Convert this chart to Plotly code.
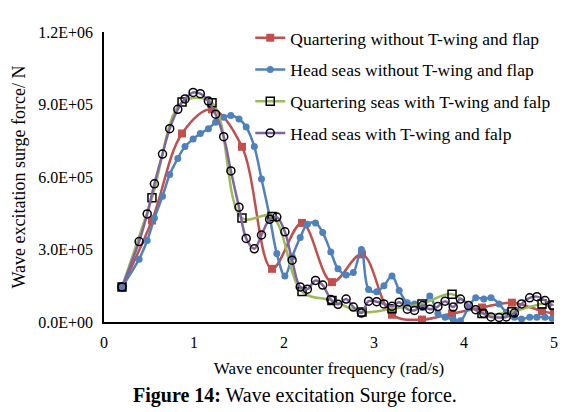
import plotly.graph_objects as go

# Sparse grid (squares) for quartering cases
freq_sparse = [0.2, 0.533, 0.867, 1.2, 1.533, 1.867, 2.2, 2.533, 2.867, 3.2, 3.533, 3.867, 4.2, 4.533, 4.867, 5.0]
quart_no_wing = [0.145, 0.42, 0.78, 0.88, 0.725, 0.22, 0.41, 0.165, 0.28, 0.03, 0.01, 0.035, 0.06, 0.08, 0.045, 0.035]
quart_wing = [0.145, 0.514, 0.91, 0.907, 0.43, 0.437, 0.126, 0.089, 0.041, 0.055, 0.075, 0.115, 0.035, 0.042, 0.075, 0.07]

# Dense grid (circles) for head seas cases
freq_dense = [0.2, 0.39, 0.48, 0.56, 0.65, 0.73, 0.82, 0.90, 0.99, 1.07, 1.16, 1.24, 1.33, 1.41, 1.50,
              1.58, 1.67, 1.75, 1.84, 1.92, 2.01, 2.09, 2.18, 2.26, 2.35, 2.43, 2.52, 2.60, 2.69, 2.77,
              2.86, 2.94, 3.03, 3.11, 3.20, 3.28, 3.37, 3.45, 3.54, 3.62, 3.71, 3.79, 3.88, 3.96, 4.05,
              4.13, 4.22, 4.30, 4.39, 4.47, 4.56, 4.64, 4.73, 4.81, 4.90, 4.98]
head_no_wing = [0.145, 0.26, 0.337, 0.43, 0.52, 0.61, 0.677, 0.726, 0.757, 0.78, 0.80, 0.827, 0.847, 0.854, 0.84,
                0.807, 0.726, 0.592, 0.437, 0.283, 0.19, 0.27, 0.35, 0.405, 0.41, 0.37, 0.29, 0.22, 0.195, 0.205,
                0.30, 0.135, 0.125, 0.15, 0.19, 0.13, 0.08, 0.075, 0.06, 0.108, 0.035, 0.02, 0.01, 0.005, 0.06,
                0.10, 0.095, 0.10, 0.075, 0.04, 0.02, 0.012, 0.02, 0.02, 0.02, 0.015]
head_wing = [0.145, 0.333, 0.447, 0.572, 0.695, 0.80, 0.88, 0.923, 0.95, 0.945, 0.914, 0.86, 0.767, 0.625, 0.475,
             0.346, 0.303, 0.36, 0.425, 0.434, 0.373, 0.256, 0.145, 0.136, 0.172, 0.153, 0.093, 0.073, 0.095, 0.062,
             0.037, 0.086, 0.084, 0.075, 0.065, 0.082, 0.053, 0.048, 0.068, 0.053, 0.064, 0.086, 0.062, 0.095, 0.068,
             0.051, 0.035, 0.021, 0.019, 0.021, 0.037, 0.075, 0.10, 0.105, 0.089, 0.068]

y_ticks = [0, 300000, 600000, 900000, 1200000]
y_tick_labels = ["0.0E+00", "3.0E+05", "6.0E+05", "9.0E+05", "1.2E+06"]
x_ticks = [0, 1, 2, 3, 4, 5]

names = ["Quartering without T-wing and flap", "Head seas without T-wing and flap",
         "Quartering seas with T-wing and falp", "Head seas with T-wing and falp"]

RED, BLUE, GREEN, PURPLE = "#C0504D", "#4F81BD", "#9BBB59", "#8064A2"
SER = "Liberation Serif"

fig = go.Figure()
fig.add_trace(go.Scatter(x=freq_sparse, y=[v * 1e6 for v in quart_no_wing], name=names[0], legendgroup="a",
                         mode="lines+markers", line=dict(color=RED, width=2.5, shape="spline"),
                         marker=dict(symbol="square", size=8, color=RED)))
fig.add_trace(go.Scatter(x=freq_dense, y=[v * 1e6 for v in head_no_wing], name=names[1], legendgroup="b",
                         mode="lines+markers", line=dict(color=BLUE, width=2.5, shape="spline"),
                         marker=dict(symbol="circle", size=7, color=BLUE)))
fig.add_trace(go.Scatter(x=freq_sparse, y=[v * 1e6 for v in quart_wing], name=names[2], legendgroup="c",
                         mode="lines+markers", line=dict(color=GREEN, width=2.5, shape="spline"),
                         marker=dict(symbol="square", size=8, color="rgba(0,0,0,0)",
                                     line=dict(color="black", width=1.5))))
fig.add_trace(go.Scatter(x=freq_dense, y=[v * 1e6 for v in head_wing], name=names[3], legendgroup="d",
                         mode="lines+markers", line=dict(color=PURPLE, width=2.5, shape="spline"),
                         marker=dict(symbol="circle", size=8, color="rgba(0,0,0,0)",
                                     line=dict(color="black", width=1.5))))

fig.update_layout(
    width=578, height=412,
    margin=dict(l=96, r=32, t=16, b=98),
    paper_bgcolor="white", plot_bgcolor="white",
    font=dict(family=SER, size=16, color="black"),
    showlegend=True,
    legend=dict(x=0.325, y=1.042, xanchor="left", yanchor="top", bgcolor="rgba(0,0,0,0)",
                font=dict(family=SER, size=17.5), tracegroupgap=6, itemwidth=30),
    xaxis=dict(range=[0, 5], tickvals=x_ticks, showgrid=False, zeroline=False,
               showline=True, linecolor="black", linewidth=2, ticks="",
               tickfont=dict(family=SER, size=16), ticklabelstandoff=5,
               title=dict(text="Wave encounter frequency (rad/s)", font=dict(family=SER, size=17), standoff=12)),
    yaxis=dict(range=[0, 1200000], tickvals=y_ticks, ticktext=y_tick_labels, showgrid=False, zeroline=False,
               showline=True, linecolor="black", linewidth=1.5, ticks="",
               tickfont=dict(family=SER, size=16), ticklabelstandoff=6, automargin=False,
               title=dict(text="Wave excitation surge force/ N", font=dict(family=SER, size=18), standoff=8)),
    annotations=[dict(text="<b>Figure 14:</b> Wave excitation Surge force.", xref="paper", yref="paper",
                      x=0.424, y=0, yshift=-87, xanchor="center", yanchor="bottom", showarrow=False,
                      font=dict(family=SER, size=20))],
)

fig.write_html("out.html")
